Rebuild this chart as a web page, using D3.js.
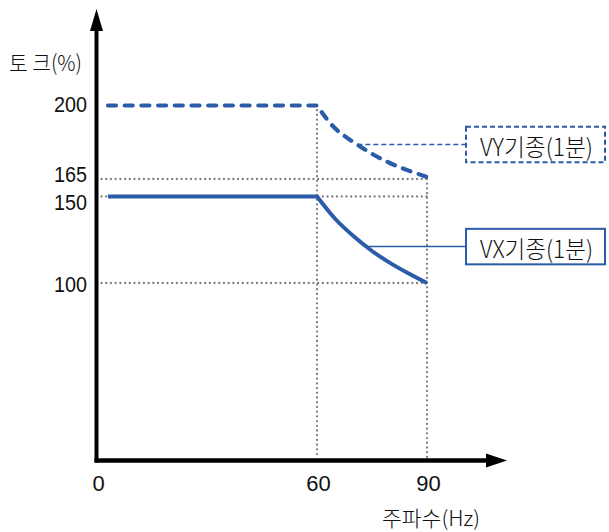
<!DOCTYPE html>
<html>
<head>
<meta charset="utf-8">
<script src="https://cdn.jsdelivr.net/npm/d3@7"></script>
<style>
  html, body { margin: 0; padding: 0; background: #fff; }
  svg { display: block; }
</style>
</head>
<body>
<svg id="chart" width="609" height="532"></svg>
<script>
// ---- data ----
const freqTicks = [0, 60, 90];
const torqueTicks = [100, 150, 165, 200];
const vxFreq = [3, 60, 65, 70, 75, 80, 85, 90];
const vxTorque = [150, 150, 137, 127, 118.5, 111.5, 105.5, 100];
const vyFreq = [3, 60, 62.5, 65, 67.5, 70, 75, 80, 85, 90];
const vyTorque = [200, 200, 194, 189, 185.5, 182.5, 177, 172.5, 169, 166];
const seriesNames = ["VX기종(1분)", "VY기종(1분)"];
const leaderFreq = [73.5, 71];
const yTitle = "토 크(%)";
const xTitle = "주파수(Hz)";

// ---- setup ----
const BLUE = "#2b5ca8";
const GRAY = "#7d7d7d";
const NUM_FONT = "'Liberation Sans', Arial, sans-serif";
const KR_FONT = "'Noto Sans CJK KR', 'Noto Sans', sans-serif";

const svg = d3.select("#chart");
const x = d3.scaleLinear().domain([0, 90]).range([97, 427]);
const y = d3.scaleLinear().domain([100, 150, 165, 200]).range([283, 196.5, 179, 105.5]);

const axisX = 96.5, axisY = 460.5;

// ---- dotted guide lines ----
const g = svg.append("g");
const dots = { stroke: GRAY, "stroke-width": 2.3, "stroke-linecap": "round", "stroke-dasharray": "0.01 4.7", fill: "none" };
function applyAttrs(sel, attrs) { Object.entries(attrs).forEach(([k, v]) => sel.attr(k, v)); return sel; }

[100, 150, 165].forEach(t => {
  applyAttrs(g.append("line")
    .attr("x1", axisX + 5).attr("x2", x(90))
    .attr("y1", y(t)).attr("y2", y(t)), dots);
});
[[60, 200], [90, 165]].forEach(([f, top]) => {
  applyAttrs(g.append("line")
    .attr("x1", x(f)).attr("x2", x(f))
    .attr("y1", y(top)).attr("y2", axisY - 3), dots);
});

// ---- series lines ----
const curve = d3.line().x(d => x(d[0])).y(d => y(d[1])).curve(d3.curveMonotoneX);
function seriesPath(fs, ts) {
  const pts = fs.map((f, i) => [f, ts[i]]);
  const rest = curve(pts.slice(1));
  return "M" + x(pts[0][0]) + "," + y(pts[0][1]) + "L" + rest.slice(1);
}
svg.append("path")
  .attr("d", seriesPath(vxFreq, vxTorque))
  .attr("fill", "none").attr("stroke", BLUE).attr("stroke-width", 4)
  .attr("stroke-linejoin", "round");
svg.append("path")
  .attr("d", seriesPath(vyFreq, vyTorque))
  .attr("fill", "none").attr("stroke", BLUE).attr("stroke-width", 4.2)
  .attr("stroke-linecap", "round").attr("stroke-dasharray", "8 8.7");

// ---- axes ----
svg.append("line").attr("x1", axisX).attr("x2", axisX).attr("y1", 28).attr("y2", axisY + 2)
  .attr("stroke", "#000").attr("stroke-width", 4);
svg.append("path").attr("d", `M${axisX},9L${axisX + 6.5},31L${axisX - 6.5},31Z`).attr("fill", "#000");
svg.append("line").attr("x1", axisX - 2).attr("x2", 490).attr("y1", axisY).attr("y2", axisY)
  .attr("stroke", "#000").attr("stroke-width", 4.5);
svg.append("path").attr("d", `M507,${axisY}L486,${axisY - 7}L486,${axisY + 7}Z`).attr("fill", "#000");

// ---- tick labels ----
const yNudge = { 200: -0.8, 165: -4.3, 150: 6, 100: 1.7 };
torqueTicks.forEach(t => {
  svg.append("text")
    .attr("x", 87).attr("y", y(t) + yNudge[t])
    .attr("text-anchor", "end").attr("dominant-baseline", "central")
    .attr("font-family", NUM_FONT).attr("font-size", 22)
    .attr("textLength", 33).attr("lengthAdjust", "spacingAndGlyphs")
    .attr("fill", "#111").text(t);
});
freqTicks.forEach(f => {
  svg.append("text")
    .attr("x", x(f) + 1.5).attr("y", 491)
    .attr("text-anchor", "middle")
    .attr("font-family", NUM_FONT).attr("font-size", 22)
    .attr("fill", "#111").text(f);
});

// ---- titles ----
svg.append("text").attr("x", 9).attr("y", 60.5)
  .attr("dominant-baseline", "central")
  .attr("font-family", KR_FONT).attr("font-size", 22).attr("font-weight", 300)
  .attr("textLength", 73).attr("lengthAdjust", "spacingAndGlyphs")
  .attr("fill", "#111").text(yTitle);
svg.append("text").attr("x", 382).attr("y", 516.5)
  .attr("dominant-baseline", "central")
  .attr("font-family", KR_FONT).attr("font-size", 21).attr("font-weight", 300)
  .attr("textLength", 98).attr("lengthAdjust", "spacingAndGlyphs")
  .attr("fill", "#111").text(xTitle);

// ---- callout boxes ----
function interp(fs, ts, f) {
  for (let i = 1; i < fs.length; i++) {
    if (f <= fs[i]) { const r = (f - fs[i - 1]) / (fs[i] - fs[i - 1]); return ts[i - 1] + r * (ts[i] - ts[i - 1]); }
  }
  return ts[ts.length - 1];
}
const seriesData = [[vxFreq, vxTorque, false], [vyFreq, vyTorque, true]];
seriesData.forEach(([fs, ts, dashed], i) => {
  const f = leaderFreq[i];
  const ly = y(interp(fs, ts, f));
  const bx = 466, bw = 139, bh = 35.5;
  svg.append("line").attr("x1", x(f)).attr("x2", bx).attr("y1", ly).attr("y2", ly)
    .attr("stroke", BLUE).attr("stroke-width", 1.5)
    .attr("stroke-dasharray", dashed ? "5 3" : null);
  svg.append("rect").attr("x", bx).attr("y", ly - bh / 2).attr("width", bw).attr("height", bh)
    .attr("fill", "#fff").attr("stroke", BLUE).attr("stroke-width", 2)
    .attr("stroke-dasharray", dashed ? "5 3" : null);
  svg.append("text").attr("x", 480).attr("y", ly + 0.5)
    .attr("dominant-baseline", "central")
    .attr("font-family", KR_FONT).attr("font-size", 24).attr("font-weight", 300)
    .attr("textLength", 113).attr("lengthAdjust", "spacingAndGlyphs")
    .attr("fill", "#111").text(seriesNames[i]);
});
</script>
</body>
</html>
